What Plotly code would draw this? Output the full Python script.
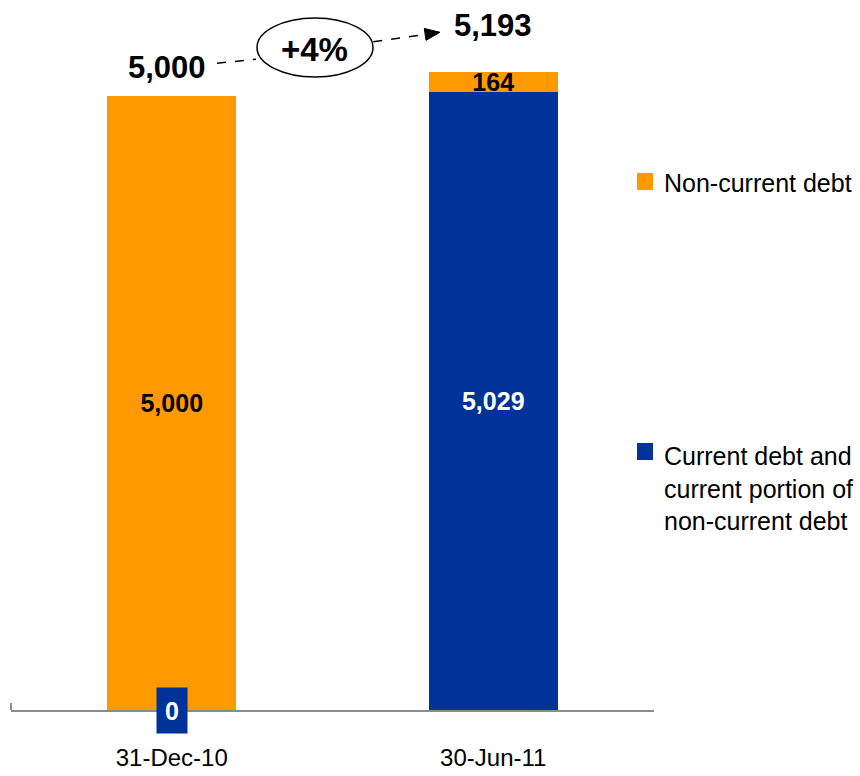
import plotly.graph_objects as go

# ---- data ----
categories = ["31-Dec-10", "30-Jun-11"]
current_debt = [0, 5029]          # Current debt and current portion of non-current debt
non_current_debt = [5000, 164]    # Non-current debt
totals = [a + b for a, b in zip(current_debt, non_current_debt)]
change_label = "+4%"
series_names = ["Non-current debt", "Current debt and<br>current portion of<br>non-current debt"]

ORANGE = "#FF9900"
BLUE = "#003399"
FONT = "Liberation Sans Narrow, Arial Narrow, Liberation Sans, Arial, sans-serif"

W, H = 860, 776
ML, MR, MT, MB = 11, 206, 0, 66
PW, PH = W - ML - MR, H - MT - MB


def px(x):
    return (x - ML) / PW


def py(y):
    return (MT + PH - y) / PH


def fmt(v):
    return f"{v:,}"


fig = go.Figure()
fig.add_trace(go.Bar(
    x=categories, y=current_debt, name="Current debt",
    marker=dict(color=BLUE, line=dict(width=0)),
    text=["" if v == 0 else fmt(v) for v in current_debt],
    textposition="inside", insidetextanchor="middle", constraintext="none",
    textfont=dict(family=FONT, size=25, color="white", weight="bold"),
    width=0.4, showlegend=False,
))
fig.add_trace(go.Bar(
    x=categories, y=non_current_debt, name="Non-current debt",
    marker=dict(color=ORANGE, line=dict(width=0)),
    text=[fmt(v) for v in non_current_debt],
    textposition="inside", insidetextanchor="middle", constraintext="none",
    textfont=dict(family=FONT, size=25, color="black", weight="bold"),
    width=0.4, showlegend=False,
))

shapes = []
annotations = []

# zero label for current debt on first bar
annotations.append(dict(
    x=categories[0], y=current_debt[0], xref="x", yref="y",
    text=fmt(current_debt[0]), showarrow=False,
    font=dict(family=FONT, size=25, color="white", weight="bold"),
    bgcolor=BLUE, width=30, height=45, borderpad=0,
    xanchor="center", yanchor="middle",
))

# total labels
annotations.append(dict(
    x=px(167), y=py(68), xref="paper", yref="paper", text=fmt(totals[0]),
    showarrow=False, font=dict(family=FONT, size=31, color="black", weight="bold"),
    xanchor="center", yanchor="middle",
))
annotations.append(dict(
    x=px(492.5), y=py(26), xref="paper", yref="paper", text=fmt(totals[1]),
    showarrow=False, font=dict(family=FONT, size=31, color="black", weight="bold"),
    xanchor="center", yanchor="middle",
))

# ellipse with change
shapes.append(dict(type="circle", xref="paper", yref="paper",
                   x0=px(257), x1=px(373), y0=py(77), y1=py(18),
                   line=dict(color="black", width=1.5), fillcolor="white"))
annotations.append(dict(
    x=px(314), y=py(49), xref="paper", yref="paper", text=change_label,
    showarrow=False, font=dict(family=FONT, size=33, color="black", weight="bold"),
    xanchor="center", yanchor="middle",
))

# dashed connectors
shapes.append(dict(type="line", xref="paper", yref="paper",
                   x0=px(217), y0=py(63.3), x1=px(256), y1=py(59.2),
                   line=dict(color="black", width=1.5, dash="dash")))
tip = (440, 32.3)
start = (373.3, 41.7)
dx, dy = tip[0] - start[0], tip[1] - start[1]
L = (dx ** 2 + dy ** 2) ** 0.5
ux, uy = dx / L, dy / L
bx, by = tip[0] - 15 * ux, tip[1] - 15 * uy
pxp, pyp = -uy, ux
shapes.append(dict(type="line", xref="paper", yref="paper",
                   x0=px(start[0]), y0=py(start[1]), x1=px(bx), y1=py(by),
                   line=dict(color="black", width=1.5, dash="dash")))
p1 = (bx + 6 * pxp, by + 6 * pyp)
p2 = (bx - 6 * pxp, by - 6 * pyp)
path = (f"M {px(tip[0])} {py(tip[1])} L {px(p1[0])} {py(p1[1])} "
        f"L {px(p2[0])} {py(p2[1])} Z")
shapes.append(dict(type="path", xref="paper", yref="paper", path=path,
                   fillcolor="black", line=dict(color="black", width=1)))

# left tick mark at axis start
shapes.append(dict(type="line", xref="paper", yref="paper",
                   x0=0, x1=0, y0=0, y1=py(703),
                   line=dict(color="#8C8C8C", width=2)))

# manual legend
legend_items = [
    (ORANGE, series_names[0], 173, 183),
    (BLUE, series_names[1], 443, 488),
]
for color, label, sq_top, text_mid in legend_items:
    shapes.append(dict(type="rect", xref="paper", yref="paper",
                       x0=px(637), x1=px(653), y0=py(sq_top + 17), y1=py(sq_top),
                       fillcolor=color, line=dict(width=0)))
    annotations.append(dict(
        x=px(662), y=py(text_mid), xref="paper", yref="paper", text=label,
        showarrow=False, align="left", xanchor="left", yanchor="middle",
        font=dict(family=FONT, size=25, color="black"),
    ))

fig.update_layout(
    width=W, height=H,
    margin=dict(l=ML, r=MR, t=MT, b=MB, pad=0),
    barmode="stack",
    plot_bgcolor="white", paper_bgcolor="white",
    showlegend=False,
    shapes=shapes, annotations=annotations,
    xaxis=dict(type="category", categoryorder="array", categoryarray=categories,
               range=[-0.5, 1.5], showline=True, linecolor="#8C8C8C", linewidth=2,
               ticks="", showgrid=False, zeroline=False, ticklabelstandoff=25,
               tickfont=dict(family=FONT, size=24, color="black")),
    yaxis=dict(visible=False, range=[0, PH / 0.1228], showgrid=False, zeroline=False),
)

fig.write_html("out.html",
               config={"displayModeBar": False},
               post_script="document.body.style.margin='0px';"
                           "document.body.style.overflow='hidden';")
